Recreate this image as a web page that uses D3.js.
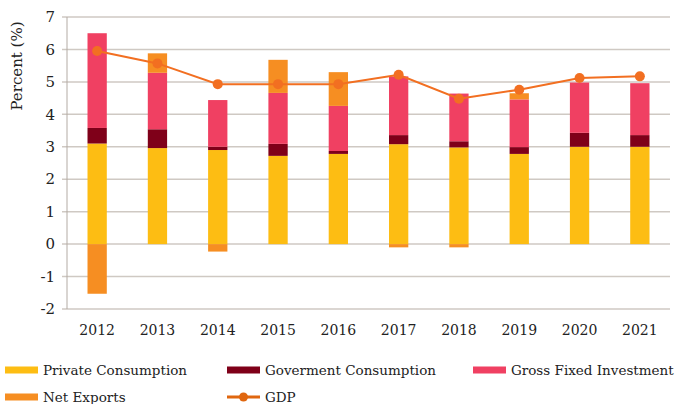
<!DOCTYPE html>
<html>
<head>
<meta charset="utf-8">
<script src="https://cdn.jsdelivr.net/npm/d3@7"></script>
<style>
  body { margin: 0; background: #fff; }
  svg text { font-family: "DejaVu Serif", "Liberation Serif", serif; fill: #222; }
</style>
</head>
<body>
<div id="chart"></div>
<script>
// Chart data
const years = ["2012", "2013", "2014", "2015", "2016", "2017", "2018", "2019", "2020", "2021"];
const privateConsumption = [3.1, 2.96, 2.9, 2.72, 2.78, 3.08, 2.98, 2.78, 3.0, 3.0];
const govConsumption = [0.48, 0.58, 0.1, 0.37, 0.09, 0.28, 0.19, 0.21, 0.43, 0.36];
const grossFixedInvestment = [2.92, 1.74, 1.44, 1.57, 1.39, 1.81, 1.47, 1.47, 1.55, 1.6];
const netExports = [-1.53, 0.6, -0.23, 1.02, 1.04, -0.1, -0.1, 0.19, 0, 0];
const gdp = [5.95, 5.57, 4.93, 4.93, 4.93, 5.22, 4.48, 4.76, 5.12, 5.17];
const yTicks = [-2, -1, 0, 1, 2, 3, 4, 5, 6, 7];

const seriesNames = ["Private Consumption", "Goverment Consumption", "Gross Fixed Investment", "Net Exports"];
const seriesColors = ["#fdbd13", "#7f0019", "#f04062", "#f68e22"];
const gdpColor = "#f26f21";

const width = 676, height = 404;
const margin = { top: 17, right: 6, bottom: 95, left: 67 };

const svg = d3.select("#chart").append("svg")
    .attr("width", width)
    .attr("height", height);

// Build the rows for stacking
const rows = years.map((y, i) => ({
    year: y,
    "Private Consumption": privateConsumption[i],
    "Goverment Consumption": govConsumption[i],
    "Gross Fixed Investment": grossFixedInvestment[i],
    "Net Exports": netExports[i]
}));

const stacked = d3.stack()
    .keys(seriesNames)
    .offset(d3.stackOffsetDiverging)(rows);

const x = d3.scaleBand()
    .domain(years)
    .range([margin.left, width - margin.right])
    .paddingInner(0.68)
    .paddingOuter(0.34);

const yScale = d3.scaleLinear()
    .domain([-2, 7])
    .range([height - margin.bottom, margin.top]);

// Gridlines
svg.append("g")
    .selectAll("line")
    .data(yTicks)
    .enter().append("line")
    .attr("x1", margin.left - 5)
    .attr("x2", width - margin.right)
    .attr("y1", d => yScale(d))
    .attr("y2", d => yScale(d))
    .attr("stroke", "#cfc9c3")
    .attr("stroke-width", 1.5);

// Left axis line
svg.append("line")
    .attr("x1", margin.left)
    .attr("x2", margin.left)
    .attr("y1", yScale(7))
    .attr("y2", yScale(-2))
    .attr("stroke", "#b3aba4")
    .attr("stroke-width", 1);

// Y tick labels
svg.append("g")
    .selectAll("text")
    .data(yTicks)
    .enter().append("text")
    .attr("x", margin.left - 12)
    .attr("y", d => yScale(d))
    .attr("dy", "0.35em")
    .attr("text-anchor", "end")
    .attr("font-size", "15px")
    .text(d => d);

// Y axis title
svg.append("text")
    .attr("transform", "translate(22, 66) rotate(-90)")
    .attr("text-anchor", "middle")
    .attr("font-size", "15px")
    .text("Percent (%)");

// X tick labels
svg.append("g")
    .selectAll("text")
    .data(years)
    .enter().append("text")
    .attr("x", d => x(d) + x.bandwidth() / 2)
    .attr("y", 330)
    .attr("dy", "0.35em")
    .attr("text-anchor", "middle")
    .attr("font-size", "14px")
    .text(d => d);

// Stacked bars
svg.append("g")
    .selectAll("g")
    .data(stacked)
    .enter().append("g")
    .attr("fill", (d, i) => seriesColors[i])
    .selectAll("rect")
    .data(d => d)
    .enter().append("rect")
    .attr("x", d => x(d.data.year))
    .attr("width", x.bandwidth())
    .attr("y", d => yScale(Math.max(d[0], d[1])))
    .attr("height", d => Math.abs(yScale(d[0]) - yScale(d[1])));

// GDP line
const line = d3.line()
    .x((d, i) => x(years[i]) + x.bandwidth() / 2)
    .y(d => yScale(d));

svg.append("path")
    .datum(gdp)
    .attr("d", line)
    .attr("fill", "none")
    .attr("stroke", gdpColor)
    .attr("stroke-width", 2);

svg.append("g")
    .selectAll("circle")
    .data(gdp)
    .enter().append("circle")
    .attr("cx", (d, i) => x(years[i]) + x.bandwidth() / 2)
    .attr("cy", d => yScale(d))
    .attr("r", 5)
    .attr("fill", gdpColor);

// Legend
const legendItems = [
    { name: "Private Consumption", color: seriesColors[0], x: 5, y: 370 },
    { name: "Goverment Consumption", color: seriesColors[1], x: 227, y: 370 },
    { name: "Gross Fixed Investment", color: seriesColors[2], x: 473, y: 370 },
    { name: "Net Exports", color: seriesColors[3], x: 5, y: 397 },
    { name: "GDP", color: "#e0670f", x: 227, y: 397, line: true }
];

const legend = svg.append("g")
    .selectAll("g")
    .data(legendItems)
    .enter().append("g")
    .attr("transform", d => `translate(${d.x}, ${d.y})`);

legend.filter(d => !d.line).append("rect")
    .attr("x", 0)
    .attr("y", -3.5)
    .attr("width", 33)
    .attr("height", 7)
    .attr("fill", d => d.color);

legend.filter(d => d.line).append("line")
    .attr("x1", 0)
    .attr("x2", 33)
    .attr("stroke", d => d.color)
    .attr("stroke-width", 3);

legend.filter(d => d.line).append("circle")
    .attr("cx", 16.5)
    .attr("r", 4.5)
    .attr("fill", d => d.color);

legend.append("text")
    .attr("x", 38)
    .attr("dy", "0.35em")
    .attr("font-size", "13.5px")
    .text(d => d.name);
</script>
</body>
</html>
